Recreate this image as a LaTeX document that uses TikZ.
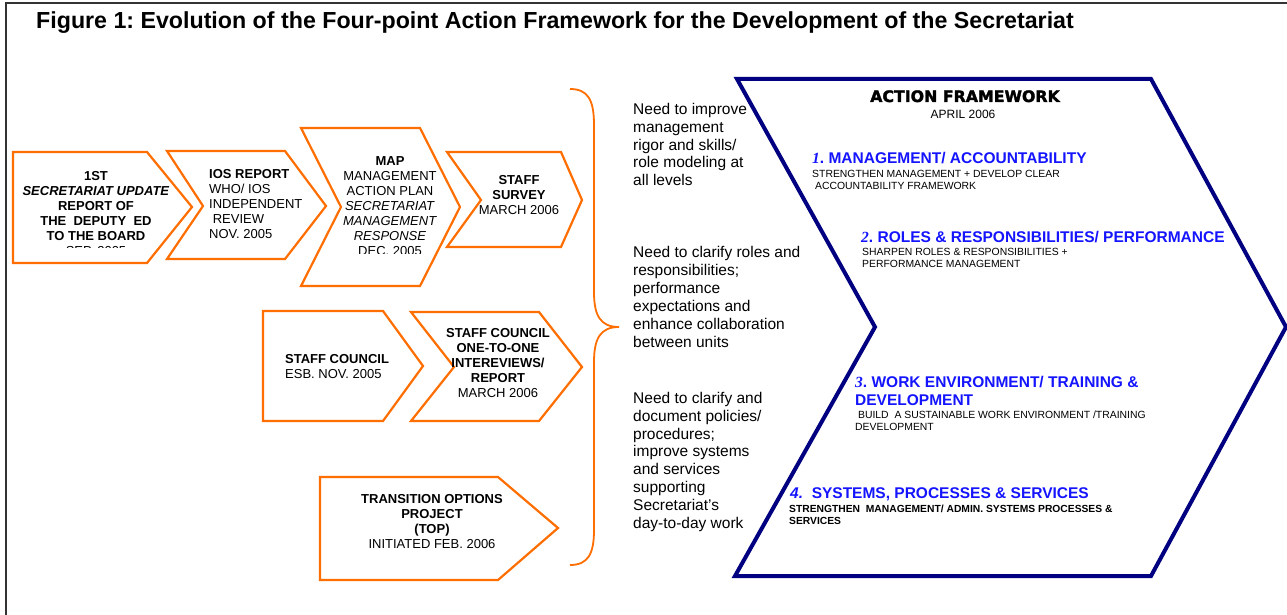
\documentclass[tikz,border=0pt]{standalone}
\usepackage{fontspec}
\setmainfont{Liberation Sans}
\newfontfamily\numfont{Liberation Serif}
\newfontfamily\heavyfont[FakeBold=2]{DejaVu Sans Bold}
\definecolor{stageorange}{RGB}{255,110,0}
\definecolor{framenavy}{RGB}{0,0,128}
\definecolor{headblue}{RGB}{20,20,255}
\newcommand{\txtsize}[2]{\fontsize{#1}{#2}\selectfont}
\frenchspacing

\begin{document}
\begin{tikzpicture}[x=1pt,y=-1pt,
  stage/.style={draw=stageorange,line width=2.2pt,line join=miter},
  stagetxt/.style={inner sep=0pt,align=center,anchor=base,font=\txtsize{13}{15}},
  need/.style={inner sep=0pt,align=left,anchor=base west,font=\txtsize{15.5}{17.85}},
  item/.style={inner sep=0pt,align=left,anchor=base west,text=headblue,font=\bfseries\txtsize{15.5}{18}},
  itemsub/.style={inner sep=0pt,align=left,anchor=base west,font=\txtsize{10.4}{11.2}}]
\fill[white] (0,0) rectangle (1287,615);
\useasboundingbox (0,0) rectangle (1287,615);
% frame and title
\draw[line width=1.6pt,black!80] (6,615) -- (6,3) -- (1287,3);
\node[inner sep=0pt,anchor=base west,font=\bfseries\txtsize{23.2}{26}] (title) at (36,29) {Figure 1: Evolution of the Four-point Action Framework for the Development of the Secretariat};

% stages
\draw[stage] (13,152) -- (147,152) -- (192,207) -- (147,263) -- (13,263) -- cycle;
\draw[stage] (167,151) -- (285,151) -- (326,206) -- (285,259) -- (167,259) -- (203,206) -- cycle;
\draw[stage] (301,128) -- (420,128) -- (460,207) -- (420,286) -- (301,286) -- (341,207) -- cycle;
\draw[stage] (447,152) -- (561,152) -- (582,200) -- (561,247) -- (447,247) -- (481,200) -- cycle;
\draw[stage] (263,311) -- (383,311) -- (423,366) -- (383,421) -- (263,421) -- cycle;
\draw[stage] (411,312) -- (539,312) -- (582,367) -- (539,421) -- (411,421) -- (454,367) -- cycle;
\draw[stage] (320,477) -- (498,477) -- (558,528) -- (498,580) -- (320,580) -- cycle;

% stage texts (anchor at last baseline)
\begin{scope}
\clip (14,150) rectangle (192,247);
\node[stagetxt,font=\bfseries\txtsize{13}{15}] (update) at (96,255) {1ST\\\textit{SECRETARIAT UPDATE}\\REPORT OF\\THE~~DEPUTY~~ED\\TO THE BOARD\\\textnormal{SEP. 2005}};
\end{scope}
\node[stagetxt,align=left,anchor=base west] (iosreport) at (209,238) {\textbf{IOS REPORT}\\WHO/ IOS\\INDEPENDENT\\\ REVIEW\\NOV. 2005};
\begin{scope}
\clip (341,120) rectangle (460,253);
\node[stagetxt] (map) at (390,255) {\textbf{MAP}\\MANAGEMENT\\ACTION PLAN\\\textit{SECRETARIAT}\\\textit{MANAGEMENT}\\\textit{RESPONSE}\\DEC. 2005};
\end{scope}
\node[stagetxt] (survey) at (519,214) {\textbf{STAFF}\\\textbf{SURVEY}\\MARCH 2006};
\node[stagetxt,align=left,anchor=base west] (council) at (285,378) {\textbf{STAFF COUNCIL}\\ESB. NOV. 2005};
\node[stagetxt] (onetoone) at (498,397) {\textbf{STAFF COUNCIL}\\\textbf{ONE-TO-ONE}\\\textbf{INTEREVIEWS/}\\\textbf{REPORT}\\MARCH 2006};
\node[stagetxt] (topproject) at (432,548) {\textbf{TRANSITION OPTIONS}\\\textbf{PROJECT}\\\textbf{(TOP)}\\INITIATED FEB. 2006};

% brace
\draw[stage,line width=1.8pt] (570,89) .. controls (588,89) and (594,100) .. (594,125) -- (594,292) .. controls (594,315) and (600,327) .. (619,327) .. controls (600,327) and (594,339) .. (594,362) -- (594,530) .. controls (594,554) and (588,565) .. (570,565);

% needs
\node[need] (rigor) at (633,185.7) {Need to improve\\management\\rigor and skills/\\role modeling at\\all levels};
\node[need] (roles) at (633,347) {Need to clarify roles and\\responsibilities;\\performance\\expectations and\\enhance collaboration\\between units};
\node[need] (policies) at (633,528.3) {Need to clarify and\\document policies/\\procedures;\\improve systems\\and services\\supporting\\Secretariat's\\day-to-day work};

% action framework
\draw[framenavy,line width=4pt,line join=miter] (737,79) -- (1151,79) -- (1286,327) -- (1151,576) -- (735,576) -- (875,327) -- cycle;
\node[inner sep=0pt,anchor=base,font=\heavyfont\txtsize{15.8}{18}] (afhead) at (965,102) {ACTION FRAMEWORK};
\node[inner sep=0pt,anchor=base,font=\txtsize{12}{14}] (afdate) at (963,119) {APRIL 2006};

\node[item] (mgmt) at (812,164) {{\numfont\itshape 1}. MANAGEMENT/ ACCOUNTABILITY};
\node[itemsub] (mgmtsub) at (812,189) {STRENGTHEN MANAGEMENT + DEVELOP CLEAR\\\ ACCOUNTABILITY FRAMEWORK};
\node[item] (rolehead) at (861,242) {{\numfont\itshape 2}. ROLES \& RESPONSIBILITIES/ PERFORMANCE};
\node[itemsub] (rolesub) at (862,267) {SHARPEN ROLES \& RESPONSIBILITIES +\\PERFORMANCE MANAGEMENT};
\node[item] (workhead) at (855,405) {{\numfont\itshape 3}. WORK ENVIRONMENT/ TRAINING \&\\DEVELOPMENT};
\node[itemsub] (worksub) at (855,430) {\ BUILD~~A SUSTAINABLE WORK ENVIRONMENT /TRAINING\\DEVELOPMENT};
\node[item] (syshead) at (790,498) {\textit{4.}~~SYSTEMS, PROCESSES \& SERVICES};
\node[itemsub,font=\bfseries\txtsize{10.3}{12}] (syssub) at (789,524) {STRENGTHEN~~MANAGEMENT/ ADMIN. SYSTEMS PROCESSES \&\\SERVICES};
\end{tikzpicture}
\end{document}
